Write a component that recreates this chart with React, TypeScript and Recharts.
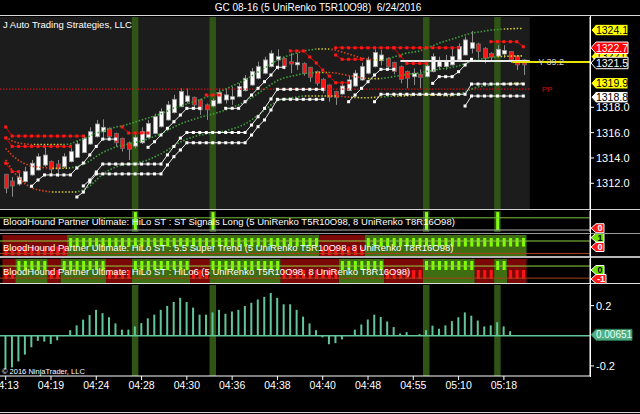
import React from 'react';
import { ComposedChart, Bar, Line, XAxis, YAxis, ReferenceLine, ReferenceArea, Cell } from 'recharts';

const FONT = '"Liberation Sans", Arial, sans-serif';
const X_DOMAIN: [number, number] = [-0.881, 90.31];
const PRICE_DOMAIN: [number, number] = [1309.97, 1325.13];

const titleText = 'GC 08-16 (5 UniRenko T5R10O98)  6/24/2016';
const brandText = 'J Auto Trading Strategies, LLC';
const panel2Text = 'BloodHound Partner Ultimate: HiLo ST : ST Signals Long (5 UniRenko T5R10O98, 8 UniRenko T8R16O98)';
const panel3Text = 'BloodHound Partner Ultimate: HiLo ST : 5.5 Super Trend (5 UniRenko T5R10O98, 8 UniRenko T8R16O98)';
const panel4Text = 'BloodHound Partner Ultimate: HiLo ST : HiLo6 (5 UniRenko T5R10O98, 8 UniRenko T8R16O98)';

const timeTicks = [0, 7, 14, 21, 28, 35, 42, 49, 56, 63, 70, 77];
const timeLabels = ['04:13', '04:19', '04:24', '04:28', '04:30', '04:36', '04:38', '04:40', '04:48', '04:55', '05:10', '05:18'];
const priceTicks = [1312, 1314, 1316, 1318];
const oscTicks = [0.2, -0.2];

const opens = [1312.71, 1312.18, 1311.94, 1312.13, 1312.66, 1313.05, 1313.44, 1313.71, 1313.52, 1313.31,
  1313.71, 1314.05, 1314.42, 1315.10, 1315.68, 1316.07, 1316.34, 1315.94, 1315.55, 1315.20,
  1314.94, 1315.20, 1315.63, 1315.94, 1316.47, 1317.00, 1317.58, 1318.05, 1318.45, 1318.79,
  1318.58, 1318.19, 1318.10, 1318.32, 1318.58, 1318.63, 1318.84, 1319.32, 1319.76, 1320.29,
  1320.69, 1321.21, 1321.74, 1321.87, 1321.60, 1321.35, 1321.47, 1321.16, 1320.82, 1320.21,
  1319.76, 1319.24, 1319.05, 1319.32, 1319.68, 1320.16, 1320.69, 1321.21, 1321.68, 1321.87,
  1321.53, 1321.21, 1320.82, 1320.42, 1320.61, 1320.42, 1320.82, 1321.21, 1321.21, 1321.35,
  1321.74, 1322.13, 1322.66, 1323.00, 1322.66, 1322.26, 1322.05, 1322.21, 1322.40, 1322.05,
  1321.74];
const closes = [1311.61, 1311.79, 1312.47, 1312.92, 1313.58, 1314.10, 1314.23, 1313.10, 1313.13, 1314.10,
  1314.50, 1315.10, 1315.55, 1316.07, 1316.68, 1316.42, 1315.68, 1315.20, 1314.76, 1314.68,
  1315.63, 1316.07, 1316.73, 1317.26, 1317.66, 1318.19, 1318.63, 1319.24, 1318.90, 1318.19,
  1317.80, 1317.80, 1318.53, 1319.16, 1318.98, 1318.84, 1319.63, 1320.29, 1320.82, 1321.21,
  1321.74, 1322.26, 1322.00, 1321.21, 1321.42, 1321.53, 1320.69, 1320.37, 1319.90, 1319.32,
  1318.79, 1318.76, 1319.68, 1320.16, 1320.69, 1321.21, 1321.74, 1322.32, 1322.13, 1321.21,
  1320.82, 1320.21, 1320.29, 1320.69, 1320.37, 1321.26, 1322.00, 1321.60, 1321.60, 1322.00,
  1322.79, 1323.32, 1323.10, 1322.40, 1321.87, 1321.95, 1322.58, 1322.48, 1321.74, 1321.35,
  1321.35];
const highs = [1312.75, 1312.50, 1312.79, 1313.30, 1313.84, 1314.37, 1314.84, 1313.80, 1313.84, 1314.37,
  1314.76, 1315.37, 1315.80, 1316.42, 1317.00, 1317.05, 1316.40, 1316.00, 1315.60, 1315.30,
  1315.80, 1316.42, 1317.00, 1317.50, 1317.92, 1318.50, 1318.98, 1319.50, 1319.50, 1318.85,
  1318.65, 1318.30, 1318.70, 1319.50, 1319.50, 1319.60, 1319.90, 1320.55, 1321.10, 1321.60,
  1322.00, 1322.50, 1322.58, 1321.95, 1322.26, 1322.26, 1321.55, 1321.20, 1320.90, 1320.30,
  1319.80, 1319.30, 1319.90, 1320.48, 1320.95, 1321.53, 1322.00, 1322.58, 1322.53, 1321.95,
  1321.60, 1321.30, 1320.90, 1321.08, 1321.00, 1321.47, 1322.26, 1322.00, 1322.13, 1322.66,
  1323.05, 1323.58, 1324.03, 1323.10, 1322.75, 1322.35, 1322.90, 1322.90, 1322.45, 1322.10,
  1321.80];
const lows = [1311.21, 1310.94, 1311.80, 1312.05, 1312.60, 1313.00, 1313.30, 1312.73, 1312.50, 1313.20,
  1313.65, 1314.00, 1314.40, 1315.05, 1315.60, 1315.42, 1315.40, 1314.90, 1314.50, 1313.84,
  1314.76, 1315.10, 1315.55, 1315.90, 1316.40, 1316.95, 1317.50, 1318.00, 1318.30, 1317.80,
  1317.40, 1317.00, 1318.00, 1318.25, 1318.30, 1318.19, 1318.80, 1319.25, 1319.70, 1320.20,
  1320.60, 1321.15, 1320.95, 1321.00, 1320.69, 1320.95, 1320.50, 1320.00, 1319.70, 1319.10,
  1318.45, 1318.19, 1319.00, 1319.30, 1319.60, 1320.10, 1320.60, 1321.15, 1321.30, 1321.00,
  1320.60, 1319.90, 1319.50, 1319.76, 1319.50, 1320.35, 1320.75, 1320.95, 1320.95, 1321.30,
  1321.70, 1322.10, 1322.26, 1321.87, 1321.47, 1321.60, 1322.00, 1321.90, 1321.50, 1320.95,
  1320.55];

const bandUpper = [1315.66, 1315.34, 1315.18, 1315.10, 1315.06, 1315.06, 1315.06, 1315.06, 1315.06, 1315.06,
  1315.10, 1315.34, 1315.50, 1315.73, 1315.97, 1316.13, 1316.29, 1316.45, 1316.52, 1316.68,
  1316.84, 1317.00, 1317.15, 1317.31, 1317.47, 1317.71, 1317.94, 1318.10, 1318.26, 1318.42,
  1318.58, 1318.81, 1318.97, 1319.21, 1319.44, 1319.68, 1319.92, 1320.15, 1320.47, 1320.79,
  1321.10, 1321.42, 1321.73, 1321.97, 1322.13, 1322.29, 1322.44, 1322.52, 1322.60, 1322.60,
  1322.60, 1322.52, 1322.36, 1322.21, 1322.05, 1321.89, 1321.81, 1321.73, 1321.73, 1321.81,
  1321.97, 1322.13, 1322.29, 1322.36, 1322.44, 1322.68, 1322.84, 1323.07, 1323.23, 1323.39,
  1323.55, 1323.71, 1323.86, 1323.94, 1324.02, 1324.10, 1324.14, 1324.18, 1324.20, 1324.22,
  1324.22];
const bandMid = [1314.75, 1314.20, 1313.80, 1313.53, 1313.35, 1313.27, 1313.23, 1313.19, 1313.19, 1313.19,
  1313.21, 1313.33, 1313.49, 1313.76, 1314.12, 1314.44, 1314.67, 1314.87, 1314.99, 1315.10,
  1315.22, 1315.34, 1315.50, 1315.70, 1315.90, 1316.17, 1316.45, 1316.68, 1316.88, 1317.04,
  1317.20, 1317.35, 1317.47, 1317.63, 1317.79, 1317.99, 1318.19, 1318.42, 1318.74, 1319.09,
  1319.45, 1319.80, 1320.12, 1320.32, 1320.43, 1320.55, 1320.67, 1320.71, 1320.75, 1320.75,
  1320.75, 1320.71, 1320.61, 1320.51, 1320.42, 1320.32, 1320.28, 1320.26, 1320.27, 1320.33,
  1320.43, 1320.51, 1320.61, 1320.66, 1320.71, 1320.83, 1320.91, 1321.01, 1321.08, 1321.16,
  1321.26, 1321.46, 1321.65, 1321.77, 1321.85, 1321.93, 1321.99, 1322.02, 1322.04, 1322.06,
  1322.06];
const bandLower = [1313.84, 1313.05, 1312.42, 1311.95, 1311.63, 1311.47, 1311.39, 1311.31, 1311.31, 1311.31,
  1311.31, 1311.31, 1311.47, 1311.79, 1312.26, 1312.74, 1313.05, 1313.29, 1313.45, 1313.52,
  1313.60, 1313.68, 1313.84, 1314.08, 1314.32, 1314.63, 1314.95, 1315.26, 1315.50, 1315.66,
  1315.81, 1315.89, 1315.97, 1316.05, 1316.13, 1316.29, 1316.45, 1316.68, 1317.00, 1317.39,
  1317.79, 1318.18, 1318.50, 1318.66, 1318.73, 1318.81, 1318.89, 1318.89, 1318.89, 1318.89,
  1318.89, 1318.89, 1318.85, 1318.81, 1318.78, 1318.75, 1318.75, 1318.78, 1318.81, 1318.85,
  1318.89, 1318.89, 1318.92, 1318.95, 1318.97, 1318.97, 1318.97, 1318.95, 1318.92, 1318.92,
  1318.97, 1319.21, 1319.44, 1319.60, 1319.68, 1319.76, 1319.84, 1319.86, 1319.88, 1319.90,
  1319.90];

// stop lines: [start bar index, values...]
const redStopA: [number, number[]][] = [
  [0, [1316.45, 1315.73, 1315.73, 1315.73, 1315.73, 1315.73, 1315.73, 1315.73, 1315.73, 1315.73, 1315.73, 1315.73, 1315.73]],
  [18, [1316.45, 1315.97, 1315.97, 1315.97, 1315.97]],
  [31, [1318.97, 1318.97, 1318.97]],
  [44, [1322.45, 1322.45, 1322.45, 1321.97, 1321.50, 1320.94, 1320.47, 1319.94, 1319.94, 1319.94]],
  [75, [1323.18, 1323.18, 1323.18, 1323.18, 1323.18, 1322.78]],
];
const redStopB: [number, number[]][] = [
  [0, [1315.58, 1314.91, 1314.91, 1314.91, 1314.91, 1314.91, 1314.91, 1314.91, 1314.91, 1314.91, 1314.91]],
  [51, [1322.70, 1322.70, 1322.70, 1322.70, 1322.70, 1322.70, 1322.70, 1322.70, 1322.70, 1322.70,
    1322.70, 1322.70, 1322.70, 1322.70, 1322.70, 1322.70, 1322.70, 1322.70, 1322.70, 1322.70]],
];
const redStopC: [number, number[]][] = [
  [0, [1313.58, 1312.92, 1312.92]],
  [51, [1322.13, 1321.79, 1321.79, 1321.79, 1321.79]],
  [60, [1322.70, 1322.05, 1321.47, 1321.47, 1321.47, 1321.47]],
];
const whiteStopA: [number, number[]][] = [
  [4, [1311.77, 1312.26, 1312.66, 1312.66, 1312.66, 1312.66, 1312.66, 1313.21, 1313.60, 1314.24, 1314.91, 1315.49, 1315.49, 1315.49]],
  [22, [1314.84, 1315.28, 1315.81, 1316.34, 1316.86, 1317.39, 1317.92, 1317.92, 1317.92]],
  [34, [1317.92, 1317.92, 1317.92, 1318.44, 1318.97, 1319.50, 1320.02, 1320.55, 1321.16, 1321.16]],
  [53, [1318.44, 1318.97, 1319.50, 1320.02, 1320.55, 1321.00, 1321.00, 1321.00]],
  [66, [1319.89, 1320.42, 1320.42, 1320.42, 1320.81, 1321.34, 1321.79]],
];
const whiteStopB: [number, number[]][] = [
  [12, [1311.79, 1312.26, 1312.89, 1313.52, 1313.52, 1313.52, 1313.52, 1313.52, 1313.52, 1313.52, 1313.52, 1313.52, 1313.52,
    1314.24, 1314.91, 1315.57, 1316.01, 1316.01, 1316.01, 1316.01, 1316.01, 1316.01, 1316.01, 1316.01, 1316.01, 1316.01,
    1316.60, 1317.25, 1317.92, 1318.66, 1319.42, 1319.42, 1319.42, 1319.42, 1319.42, 1319.42, 1319.42, 1319.42]],
  [57, [1318.44, 1319.03, 1319.03, 1319.03, 1319.03, 1319.03, 1319.03, 1319.03, 1319.03, 1319.03, 1319.03, 1319.03, 1319.03,
    1319.03, 1319.03, 1319.84, 1319.84, 1319.84, 1319.84, 1319.84, 1319.84, 1319.84, 1319.84, 1319.84]],
];
const whiteStopC: [number, number[]][] = [
  [11, [1310.92, 1311.31, 1312.10, 1312.74, 1312.74, 1312.74, 1312.74, 1312.74, 1312.74, 1312.74, 1312.74, 1312.74, 1312.74, 1312.74,
    1313.45, 1314.10, 1314.63, 1315.20, 1315.20, 1315.20, 1315.20, 1315.20, 1315.20, 1315.20, 1315.20, 1315.20, 1315.20,
    1315.81, 1316.47, 1317.00, 1317.79, 1318.63, 1318.63, 1318.63, 1318.63, 1318.63, 1318.63, 1318.63, 1318.63]],
  [71, [1318.10, 1318.89, 1318.89, 1318.89, 1318.89, 1318.89, 1318.89, 1318.89, 1318.89, 1318.89]],
];

const pivotPrice = 1319.44;
const lastPriceLine = { from: 61, to: 81, value: 1321.65 };
const yesterdayLine = { from: 78.3, to: 90.31, value: 1321.58, label: 'Y 39.2' };
const priceTags = [
  { value: 1322.0, text: '1322.0', bg: '#ffff00', fg: '#000000', border: '#000000' },
  { value: 1322.7, text: '1322.7', bg: '#ff0000', fg: '#ffffff', border: '#ffffff' },
  { value: 1321.5, text: '1321.5', bg: '#000000', fg: '#ffffff', border: '#ffffff' },
  { value: 1324.1, text: '1324.1', bg: '#ffff00', fg: '#000000', border: '#000000' },
  { value: 1319.9, text: '1319.9', bg: '#ffff00', fg: '#000000', border: '#000000' },
  { value: 1318.8, text: '1318.8', bg: '#ffffff', fg: '#000000', border: '#000000' },
];

const signalBars = [20, 32, 65, 76];
const superTrend = [-1, -1, -1, -1, -1, -1, -1, -1, -1, -1,
  1, 1, 1, 1, 1, 1, 1, 1, 1, 1, 1, 1, 1, 1, 1, 1, 1, 1, 1, 1,
  1, 1, 1, 1, 1, 1, 1, 1, 1, 1, 1, 1, 1, 1, 1, 1, 1, 1, 1,
  -1, -1, -1, -1, -1, -1, -1,
  1, 1, 1, 1, 1, 1, 1, 1, 1, 1, 1, 1, 1, 1, 1, 1, 1, 1, 1, 1, 1, 1, 1, 1, 1];
const hiLo6 = [-1, -1, 1, 1, 1, 1, 1, -1, -1, 1, 1, 1, 1, 1, 1, 1, -1, -1, -1, -1,
  1, 1, 1, 1, 1, 1, 1, 1, 1, -1, -1, -1, 1, 1, 1, 1, 1, 1, 1, 1, 1, 1, 1,
  -1, -1, -1, -1, -1, -1, -1, -1, -1, 1, 1, 1, 1, 1, 1, 1, -1, -1, -1, -1, -1, -1,
  1, 1, 1, 1, 1, 1, 1, 1, -1, -1, -1, 1, 1, -1, -1, -1];

const oscillator = [-0.220, -0.210, -0.170, -0.125, -0.077, -0.034, -0.039, -0.054, -0.030, 0,
  0.037, 0.069, 0.107, 0.137, 0.172, 0.150, 0.123, 0.082, 0.041, 0.041,
  0.062, 0.084, 0.116, 0.140, 0.172, 0.198, 0.224, 0.252, 0.224, 0.187,
  0.140, 0.140, 0.155, 0.172, 0.146, 0.161, 0.172, 0.198, 0.219, 0.241,
  0.258, 0.284, 0.252, 0.209, 0.209, 0.172, 0.127, 0.082, 0.037, -0.011,
  -0.056, -0.049, -0.024, 0.004, 0.041, 0.075, 0.108, 0.140, 0.125, 0.095,
  0.058, 0.015, 0.024, 0, 0.011, 0.037, 0.067, 0.047, 0.069, 0.097,
  0.123, 0.155, 0.133, 0.101, 0.062, 0.069, 0.090, 0.062, 0.030, 0,
  0.004];
const oscLast = 0.00651;

// ---------- helpers ----------
const N = opens.length;
const place = (segs: [number, number[]][]) => {
  const arr: (number | null)[] = opens.map(() => null);
  segs.forEach(([s, vals]) => vals.forEach((v, k) => { arr[s + k] = v; }));
  return arr;
};
const rsA = place(redStopA), rsB = place(redStopB), rsC = place(redStopC);
const wsA = place(whiteStopA), wsB = place(whiteStopB), wsC = place(whiteStopC);

const priceData = opens.map((o, i) => ({
  i, open: o, high: highs[i], low: lows[i], close: closes[i],
  bandUpper: bandUpper[i], bandMid: bandMid[i], bandLower: bandLower[i],
  rsA: rsA[i], rsB: rsB[i], rsC: rsC[i], wsA: wsA[i], wsB: wsB[i], wsC: wsC[i],
}));
const panelData = opens.map((_, i) => ({
  i,
  sig: signalBars.includes(i) ? 1 : null,
  st: superTrend[i],
  hl: hiLo6[i],
  osc: oscillator[i],
}));

const segmentsOf = (arr: number[]) => {
  const out: { from: number; to: number; v: number }[] = [];
  arr.forEach((v, i) => {
    const last = out[out.length - 1];
    if (last && last.v === v) last.to = i; else out.push({ from: i, to: i, v });
  });
  return out;
};

const GREEN = '#3e9e3a', YELLOW = '#d0cf2c', RED = '#d8421c';
const bandStops = (vals: number[]) => {
  const last = vals.length - 1;
  const stops: { o: number; c: string }[] = [];
  for (let i = 0; i < last; i++) {
    const d = vals[i + 1] - vals[i];
    const c = d > 0.035 ? GREEN : d < -0.035 ? RED : YELLOW;
    stops.push({ o: i / last, c }, { o: (i + 1) / last, c });
  }
  return stops;
};

const Candle = (props: any) => {
  const { x, y, width, height, payload } = props;
  if (x == null || y == null || !payload) return <g />;
  const top = Math.min(y, y + height);
  const h = Math.abs(height);
  const { open, close, high, low } = payload;
  const span = high - low || 1;
  const toPx = (v: number) => top + ((high - v) / span) * h;
  const cx = Math.round(x + width / 2) + 0.5;
  const bull = close >= open;
  const bTop = toPx(Math.max(open, close));
  const bBot = toPx(Math.min(open, close));
  return (
    <g>
      <line x1={cx} x2={cx} y1={top} y2={top + h} stroke="#8c8c8c" strokeWidth={1} />
      <rect x={cx - 2} y={bTop} width={4} height={Math.max(1, bBot - bTop)}
        fill={bull ? '#ffffff' : '#ff1414'} stroke={bull ? '#a0a0a0' : '#6e6e6e'} strokeWidth={0.8} />
    </g>
  );
};

const squareDot = (color: string) => (p: any) => {
  const { cx, cy, value, index } = p;
  if (cx == null || cy == null || value == null) return <g key={`e${index}`} />;
  return <rect key={`d${index}`} x={cx - 1.5} y={cy - 1.5} width={3} height={3} fill={color} />;
};

const Tag = (props: any) => {
  const { viewBox, text, bg, fg, border, w = 32, h = 12, fs = 11, bold = false } = props;
  if (!viewBox) return null;
  const x0 = viewBox.x + viewBox.width + 1;
  const y0 = viewBox.y + (viewBox.height || 0) / 2;
  const a = 5;
  const pts = [[x0, y0], [x0 + a, y0 - h / 2], [x0 + a + w, y0 - h / 2], [x0 + a + w, y0 + h / 2], [x0 + a, y0 + h / 2]]
    .map((p) => p.join(',')).join(' ');
  return (
    <g>
      <polygon points={pts} fill={bg} stroke={border} strokeWidth={1} />
      <text x={x0 + a + w / 2} y={y0} dy="0.36em" textAnchor="middle" fill={fg} fontSize={fs}
        fontWeight={bold ? 'bold' : 'normal'} fontFamily={FONT}>{text}</text>
    </g>
  );
};

const HIGHLIGHT = '#2f5416';
const hiddenX = <XAxis type="number" dataKey="i" domain={X_DOMAIN} allowDataOverflow hide />;
const panelTextLabel = (text: string) => ({ value: text, position: 'insideLeft' as const, offset: 3, fill: '#ffffff', fontSize: 9.5, fontFamily: FONT });
const OVERFLOW = { overflow: 'visible' as const };

const hLine = (top: number, color: string, h = 1, width = 640) => (
  <div style={{ position: 'absolute', left: 0, top, width, height: h, background: color }} />
);

export default function App() {
  const st = segmentsOf(superTrend);
  const hl = segmentsOf(hiLo6);
  return (
    <div style={{ position: 'absolute', left: 0, top: 0, width: 640, height: 414, background: '#000', overflow: 'hidden', fontFamily: FONT }}>
      <div style={{ position: 'absolute', left: 0, top: 2, width: 636, textAlign: 'center', color: '#fff', fontSize: 10, whiteSpace: 'pre' }}>{titleText}</div>

      {/* price panel */}
      <div style={{ position: 'absolute', left: 0, top: 0 }}>
        <ComposedChart width={640} height={210} data={priceData} margin={{ top: 17, right: 0, bottom: 1, left: 0 }} style={OVERFLOW}>
          <defs>
            {[['gU', bandUpper], ['gM', bandMid], ['gL', bandLower]].map(([id, vals]) => (
              <linearGradient key={id as string} id={id as string} x1="0" y1="0" x2="1" y2="0">
                {bandStops(vals as number[]).map((s, k) => <stop key={k} offset={s.o} stopColor={s.c} />)}
              </linearGradient>
            ))}
          </defs>
          {hiddenX}
          <YAxis orientation="right" width={50} type="number" domain={PRICE_DOMAIN} allowDataOverflow ticks={priceTicks}
            tickFormatter={(v: number) => v.toFixed(1)} tick={{ fill: '#ffffff', fontSize: 11, fontFamily: FONT }}
            tickSize={4} tickLine={{ stroke: '#ffffff' }} axisLine={{ stroke: '#ffffff' }} />
          <ReferenceArea x1={X_DOMAIN[0]} x2={N} fill="#1c1c1c" fillOpacity={1} stroke="none" />
          {signalBars.map((i) => <ReferenceArea key={`h${i}`} x1={i - 0.5} x2={i + 0.5} fill={HIGHLIGHT} fillOpacity={1} stroke="none" />)}
          <ReferenceLine segment={[{ x: X_DOMAIN[0], y: pivotPrice }, { x: N, y: pivotPrice }]} stroke="#c81414" strokeWidth={1.2} strokeDasharray="1.5 1.5"
            label={{ value: 'PP', position: 'right', offset: 12, fill: '#c81414', fontSize: 8, fontFamily: FONT }} />
          <Line dataKey="bandUpper" stroke="url(#gU)" strokeWidth={1.6} strokeDasharray="1.5 1.8" dot={false} activeDot={false} isAnimationActive={false} />
          <Line dataKey="bandMid" stroke="url(#gM)" strokeWidth={1.6} strokeDasharray="1.5 1.8" dot={false} activeDot={false} isAnimationActive={false} />
          <Line dataKey="bandLower" stroke="url(#gL)" strokeWidth={1.6} strokeDasharray="1.5 1.8" dot={false} activeDot={false} isAnimationActive={false} />
          <Line dataKey="wsA" stroke="#e6e6e6" strokeWidth={1} dot={squareDot('#ffffff')} activeDot={false} isAnimationActive={false} />
          <Line dataKey="wsB" stroke="#e6e6e6" strokeWidth={1} dot={squareDot('#ffffff')} activeDot={false} isAnimationActive={false} />
          <Line dataKey="wsC" stroke="#e6e6e6" strokeWidth={1} dot={squareDot('#ffffff')} activeDot={false} isAnimationActive={false} />
          <Line dataKey="rsA" stroke="#e00000" strokeWidth={1} dot={squareDot('#ff1a1a')} activeDot={false} isAnimationActive={false} />
          <Line dataKey="rsB" stroke="#e00000" strokeWidth={1} dot={squareDot('#ff1a1a')} activeDot={false} isAnimationActive={false} />
          <Line dataKey="rsC" stroke="#e00000" strokeWidth={1} dot={squareDot('#ff1a1a')} activeDot={false} isAnimationActive={false} />
          <Bar dataKey={(d: any) => [d.low, d.high]} barSize={5} shape={<Candle />} isAnimationActive={false} />
          <ReferenceLine segment={[{ x: lastPriceLine.from, y: lastPriceLine.value }, { x: lastPriceLine.to, y: lastPriceLine.value }]} stroke="#e8e8e8" strokeWidth={2} />
          <ReferenceLine segment={[{ x: yesterdayLine.from, y: yesterdayLine.value }, { x: yesterdayLine.to, y: yesterdayLine.value }]} stroke="#e6e600" strokeWidth={2}
            label={{ value: yesterdayLine.label, position: 'center', fill: '#cfcfcf', fontSize: 9, fontFamily: FONT }} />
          {priceTags.map((t) => (
            <ReferenceLine key={t.text} y={t.value} stroke="none" label={<Tag text={t.text} bg={t.bg} fg={t.fg} border={t.border} h={11.5} fs={10.5} />} />
          ))}
        </ComposedChart>
      </div>
      <div style={{ position: 'absolute', left: 3, top: 19, color: '#fff', fontSize: 9.5 }}>{brandText}</div>

      {/* signals panel */}
      <div style={{ position: 'absolute', left: 0, top: 210 }}>
        <ComposedChart width={640} height={23} data={panelData} margin={{ top: 1, right: 0, bottom: 1, left: 0 }} style={OVERFLOW}>
          {hiddenX}
          <YAxis orientation="right" width={50} type="number" domain={[-0.11, 1.06]} allowDataOverflow tick={false} tickLine={false} axisLine={{ stroke: '#ffffff' }} />
          {signalBars.map((i) => <ReferenceArea key={`h${i}`} x1={i - 0.5} x2={i + 0.5} fill={HIGHLIGHT} fillOpacity={1} stroke="none" />)}
          <ReferenceLine y={0.68} stroke="#7cc040" strokeWidth={1} />
          <ReferenceLine y={0} stroke="#b4b4b4" strokeWidth={1} />
          <ReferenceLine y={0.45} stroke="none" label={panelTextLabel(panel2Text)} />
          <Bar dataKey="sig" barSize={3} fill="#84ff10" isAnimationActive={false} />
          <ReferenceLine y={0.1} stroke="none" label={<Tag text="0" bg="#ff1a1a" fg="#ffffff" border="#ffffff" w={8} h={9} fs={9} bold />} />
        </ComposedChart>
      </div>

      {/* super trend panel */}
      <div style={{ position: 'absolute', left: 0, top: 234 }}>
        <ComposedChart width={640} height={23} data={panelData} margin={{ top: 1, right: 0, bottom: 1, left: 0 }} style={OVERFLOW}>
          {hiddenX}
          <YAxis orientation="right" width={50} type="number" domain={[-1.1, 1.35]} allowDataOverflow tick={false} tickLine={false} axisLine={{ stroke: '#ffffff' }} />
          {st.map((s) => <ReferenceArea key={`s${s.from}`} x1={s.from - 0.5} x2={s.to + 0.5} fill={s.v > 0 ? '#3f6e12' : '#7c0707'} fillOpacity={1} stroke="none" />)}
          <ReferenceLine y={-0.1} stroke="none" label={panelTextLabel(panel3Text)} />
          <ReferenceLine y={0.65} stroke="#8fd040" strokeWidth={1} />
          <ReferenceLine y={-0.8} stroke="#a8401a" strokeWidth={1} />
          <Bar dataKey="st" barSize={3} isAnimationActive={false}>
            {panelData.map((d) => <Cell key={d.i} fill={d.st > 0 ? '#80ff00' : '#ff1414'} />)}
          </Bar>
          <ReferenceLine y={1.05} stroke="none" label={<Tag text="1" bg="#70e000" fg="#000000" border="#ffffff" w={8} h={9} fs={9} bold />} />
          <ReferenceLine y={-0.05} stroke="none" label={<Tag text="0" bg="#ff1a1a" fg="#ffffff" border="#ffffff" w={8} h={9} fs={9} bold />} />
        </ComposedChart>
      </div>

      {/* HiLo6 panel */}
      <div style={{ position: 'absolute', left: 0, top: 259 }}>
        <ComposedChart width={640} height={25} data={panelData} margin={{ top: 0, right: 0, bottom: 1, left: 0 }} style={OVERFLOW}>
          {hiddenX}
          <YAxis orientation="right" width={50} type="number" domain={[-1.44, 1.22]} allowDataOverflow tick={false} tickLine={false} axisLine={{ stroke: '#ffffff' }} />
          {hl.map((s) => <ReferenceArea key={`l${s.from}`} x1={s.from - 0.5} x2={s.to + 0.5} fill={s.v > 0 ? '#3f6e12' : '#7c0707'} fillOpacity={1} stroke="none" />)}
          <ReferenceLine y={-0.2} stroke="none" label={panelTextLabel(panel4Text)} />
          <ReferenceLine y={0.44} stroke="#8fd040" strokeWidth={1} />
          <ReferenceLine y={-0.9} stroke="#a8401a" strokeWidth={1} />
          <Bar dataKey="hl" barSize={3} isAnimationActive={false}>
            {panelData.map((d) => <Cell key={d.i} fill={d.hl > 0 ? '#80ff00' : '#ff1414'} />)}
          </Bar>
          <ReferenceLine y={0} stroke="none" label={<Tag text="0" bg="#70e000" fg="#000000" border="#ffffff" w={8} h={9} fs={9} bold />} />
          <ReferenceLine y={-1} stroke="none" label={<Tag text="-1" bg="#ff1a1a" fg="#ffffff" border="#ffffff" w={10} h={9} fs={9} bold />} />
        </ComposedChart>
      </div>

      {/* oscillator panel */}
      <div style={{ position: 'absolute', left: 0, top: 284 }}>
        <ComposedChart width={640} height={128} data={panelData} margin={{ top: 1, right: 0, bottom: 0, left: 0 }} style={OVERFLOW}>
          <XAxis type="number" dataKey="i" domain={X_DOMAIN} allowDataOverflow ticks={timeTicks} interval={0} height={36}
            tickFormatter={(v: number) => timeLabels[timeTicks.indexOf(v)] ?? ''}
            tick={{ fill: '#ffffff', fontSize: 10.5, fontFamily: FONT }} tickSize={4} tickLine={{ stroke: '#ffffff' }} axisLine={{ stroke: '#ffffff' }} />
          <YAxis orientation="right" width={50} type="number" domain={[-0.267, 0.337]} allowDataOverflow ticks={oscTicks}
            tickFormatter={(v: number) => v.toFixed(1)} tick={{ fill: '#ffffff', fontSize: 11, fontFamily: FONT }}
            tickSize={4} tickLine={{ stroke: '#ffffff' }} axisLine={{ stroke: '#ffffff' }} />
          {signalBars.map((i) => <ReferenceArea key={`h${i}`} x1={i - 0.5} x2={i + 0.5} fill={HIGHLIGHT} fillOpacity={1} stroke="none" />)}
          <Bar dataKey="osc" barSize={2} fill="#62c69a" isAnimationActive={false} />
          <ReferenceLine y={0} stroke="#62c69a" strokeWidth={1.5} />
          <ReferenceLine y={oscLast} stroke="none" label={<Tag text={oscLast.toString()} bg="#4fae82" fg="#e6fff2" border="#2e7a56" w={36} h={11} fs={10} />} />
        </ComposedChart>
      </div>
      <div style={{ position: 'absolute', left: 2, top: 367, color: '#fff', fontSize: 7.5 }}>© 2016 NinjaTrader, LLC</div>

      {hLine(15, '#d8d8d8')}
      {hLine(209, '#d0d0d0')}
      {hLine(233, '#9a9a9a')}
      {hLine(256, '#b8b8b8', 2)}
      {hLine(283, '#e0e0e0')}
      {hLine(412, '#d8d8d8')}
      <div style={{ position: 'absolute', left: 590, top: 16, width: 1, height: 361, background: '#ffffff' }} />
    </div>
  );
}
